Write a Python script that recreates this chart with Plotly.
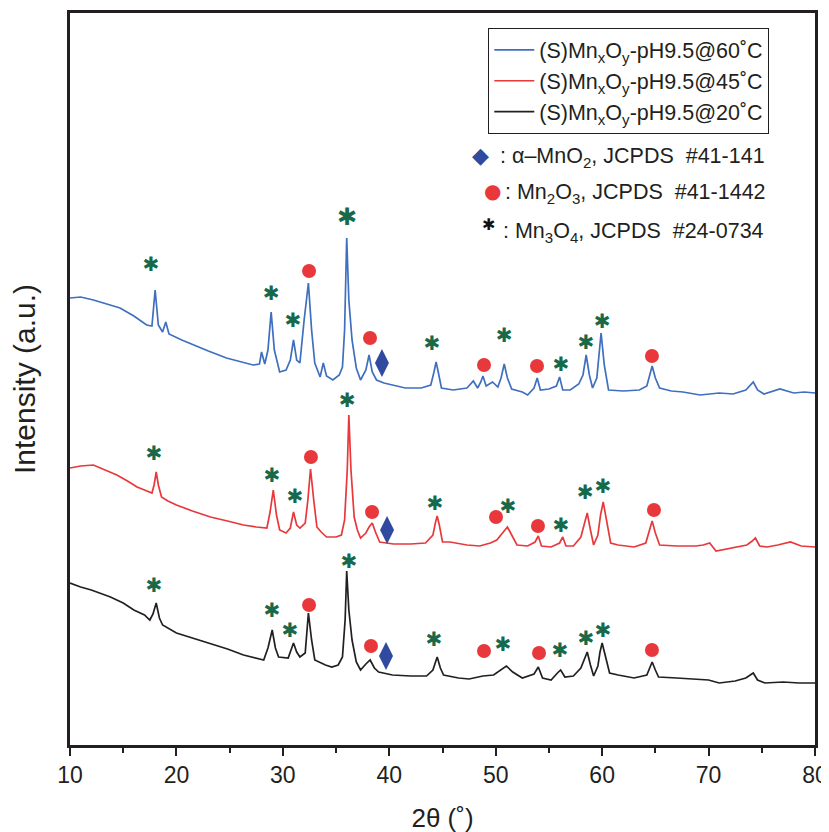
import plotly.graph_objects as go

# ---------------- data ----------------
two_theta_60 = [10.0, 11.0, 12.2, 13.5, 14.7, 16.0, 17.2, 17.7, 18.0, 18.3, 18.7, 19.0, 19.3, 20.5, 21.6, 23.0,
                24.7, 26.0, 27.2, 27.8, 28.0, 28.3, 28.6, 28.9, 29.2, 29.7, 30.3, 30.7, 31.0, 31.3, 31.6, 32.0,
                32.1, 32.4, 32.7, 33.0, 33.5, 33.8, 34.1, 34.7, 35.3, 35.6, 35.8, 36.0, 36.2, 36.5, 36.9, 37.3,
                37.8, 38.1, 38.4, 38.8, 39.5, 40.3, 41.5, 43.0, 43.9, 44.2, 44.4, 44.6, 44.9, 46.0, 47.3, 47.9,
                48.3, 48.6, 48.8, 49.1, 49.7, 50.2, 50.5, 50.8, 51.1, 51.5, 52.5, 53.0, 53.6, 53.9, 54.2, 55.0,
                55.7, 56.0, 56.3, 57.0, 57.8, 58.2, 58.5, 58.8, 59.1, 59.5, 59.9, 60.2, 60.6, 62.0, 63.5, 64.2,
                64.5, 64.7, 65.0, 65.4, 66.5, 67.6, 69.2, 71.0, 72.3, 73.5, 74.2, 74.6, 75.2, 76.7, 78.0, 79.0, 80.0]
intensity_60 = [447, 448, 445, 441, 437, 429, 420, 419, 455, 420, 413, 423, 411, 405, 400, 394,
                387, 383, 380, 381, 393, 381, 395, 433, 395, 373, 375, 385, 405, 385, 382, 425,
                435, 462, 415, 382, 368, 382, 369, 365, 370, 378, 415, 507, 445, 405, 377, 365,
                375, 390, 373, 365, 362, 360, 357, 357, 360, 373, 383, 373, 357, 355, 357, 364,
                357, 363, 369, 359, 363, 358, 367, 381, 367, 356, 353, 350, 357, 367, 355, 356,
                359, 368, 355, 355, 361, 370, 390, 370, 357, 367, 412, 380, 355, 354, 355, 359,
                371, 379, 367, 357, 354, 353, 350, 352, 351, 355, 363, 355, 351, 356, 352, 353, 352]

two_theta_45 = [10.0, 11.0, 12.2, 13.3, 14.4, 15.4, 16.3, 17.0, 17.7, 17.9, 18.1, 18.3, 18.6, 19.2, 20.0, 21.5,
                23.2, 24.8, 26.3, 27.5, 28.5, 28.8, 29.1, 29.4, 29.7, 30.3, 30.7, 31.0, 31.3, 31.6, 32.1, 32.35,
                32.6, 32.9, 33.2, 33.6, 34.1, 35.0, 35.5, 35.8, 36.05, 36.2, 36.4, 36.7, 37.0, 37.3, 37.8, 38.1,
                38.4, 38.7, 39.1, 40.4, 42.0, 43.4, 44.1, 44.35, 44.5, 44.7, 45.0, 45.7, 47.3, 48.5, 49.5, 50.1,
                50.7, 51.1, 51.5, 52.0, 53.0, 53.7, 54.0, 54.3, 55.2, 56.0, 56.3, 56.6, 57.3, 58.0, 58.3, 58.6,
                58.9, 59.2, 59.6, 59.85, 60.1, 60.4, 60.8, 61.5, 63.0, 64.1, 64.5, 64.7, 65.0, 65.4, 67.0, 68.8,
                69.5, 70.1, 70.7, 72.0, 73.6, 74.1, 74.4, 74.8, 75.5, 76.5, 77.7, 78.7, 80.0]
intensity_45 = [277, 279, 280, 275, 270, 264, 258, 255, 252, 260, 273, 260, 248, 244, 240, 234,
                228, 224, 220, 218, 217, 233, 255, 230, 215, 212, 217, 233, 220, 217, 222, 245,
                276, 245, 218, 213, 208, 208, 210, 225, 275, 330, 275, 228, 215, 207, 212, 218,
                222, 213, 203, 201, 201, 202, 210, 223, 229, 220, 203, 203, 200, 199, 202, 205,
                213, 218, 210, 200, 199, 203, 209, 199, 198, 202, 208, 199, 199, 208, 220, 232,
                215, 200, 210, 230, 243, 225, 202, 200, 198, 202, 217, 224, 212, 200, 199, 199,
                200, 202, 194, 197, 200, 204, 207, 199, 198, 200, 203, 199, 198]

two_theta_20 = [10.0, 11.0, 12.0, 13.8, 15.0, 16.0, 17.0, 17.5, 17.8, 18.1, 18.4, 18.7, 20.0, 21.5, 23.1, 24.8,
                26.3, 27.5, 28.2, 28.6, 29.0, 29.3, 29.6, 30.5, 30.8, 31.0, 31.3, 31.6, 32.1, 32.25, 32.4, 32.7,
                33.0, 34.0, 34.6, 35.2, 35.6, 35.85, 36.0, 36.2, 36.5, 36.9, 37.3, 37.8, 38.2, 38.6, 39.0, 40.3,
                42.0, 43.5, 44.1, 44.5, 44.8, 45.1, 46.5, 47.5, 48.8, 49.8, 50.5, 51.0, 51.6, 52.5, 53.6, 54.0,
                54.4, 55.2, 55.8, 56.1, 56.5, 57.3, 58.0, 58.3, 58.6, 58.9, 59.2, 59.6, 59.8, 60.0, 60.3, 60.7,
                61.5, 63.0, 64.2, 64.5, 64.7, 65.0, 65.3, 67.0, 69.2, 70.0, 71.0, 72.5, 73.5, 74.2, 74.6, 75.3,
                77.0, 78.5, 80.0]
intensity_20 = [162, 158, 155, 148, 142, 135, 130, 125, 131, 142, 127, 120, 112, 107, 102, 96,
                90, 87, 85, 97, 115, 97, 88, 87, 95, 102, 93, 88, 92, 110, 132, 105,
                85, 80, 78, 80, 88, 125, 174, 135, 105, 83, 75, 81, 85, 77, 73, 70,
                69, 69, 75, 88, 77, 70, 67, 66, 69, 70, 75, 79, 73, 67, 71, 78,
                67, 65, 72, 75, 68, 69, 77, 85, 93, 80, 69, 79, 93, 102, 90, 72,
                70, 67, 70, 79, 83, 75, 68, 67, 65, 65, 62, 64, 67, 72, 65, 62,
                63, 62, 62]

# phase markers: (2theta, intensity) for each pattern
mn3o4_x_60 = [17.61, 28.89, 30.95, 44.01, 50.78, 56.13, 58.48, 59.99]
mn3o4_y_60 = [479, 450, 423, 400, 408, 379, 401, 422]
mn3o4_big_x = [36.03]
mn3o4_big_y = [526]
mn2o3_x_60 = [32.46, 38.19, 48.90, 53.88, 64.68]
mn2o3_y_60 = [474, 407, 380, 379, 389]
mno2_x_60 = [39.31]
mno2_y_60 = [382]

mn3o4_x_45 = [17.89, 28.98, 31.14, 36.03, 44.29, 51.15, 56.13, 58.39, 60.08]
mn3o4_y_45 = [290, 268, 247, 343, 240, 237, 218, 251, 257]
mn2o3_x_45 = [32.64, 38.38, 50.03, 53.97, 64.87]
mn2o3_y_45 = [288, 233, 228, 219, 235]
mno2_x_45 = [39.79]
mno2_y_45 = [215]

mn3o4_x_20 = [17.89, 28.98, 30.67, 36.21, 44.20, 50.68, 56.04, 58.48, 60.08]
mn3o4_y_20 = [158, 133, 113, 182, 104, 99, 93, 105, 113]
mn2o3_x_20 = [32.46, 38.28, 48.90, 54.07, 64.68]
mn2o3_y_20 = [140, 99, 94, 92, 95]
mno2_x_20 = [39.69]
mno2_y_20 = [89]

series_names = ["(S)Mn<sub>x</sub>O<sub>y</sub>-pH9.5@60˚C",
                "(S)Mn<sub>x</sub>O<sub>y</sub>-pH9.5@45˚C",
                "(S)Mn<sub>x</sub>O<sub>y</sub>-pH9.5@20˚C"]
x_ticks = [10, 20, 30, 40, 50, 60, 70, 80]

# ---------------- styles ----------------
BLUE = "#3f6fbf"
RED = "#e8383b"
BLACK = "#231f20"
GREEN = "#17694a"
DOT = "#e8383b"
NAVY = "#2f4a9e"
ARIAL = "Liberation Sans, Arial, sans-serif"

fig = go.Figure()
for xs, ys, name, col in [(two_theta_60, intensity_60, series_names[0], BLUE),
                          (two_theta_45, intensity_45, series_names[1], RED),
                          (two_theta_20, intensity_20, series_names[2], BLACK)]:
    fig.add_trace(go.Scatter(x=xs, y=ys, mode="lines", name=name,
                             line=dict(color=col, width=1.7)))

ast_x = mn3o4_x_60 + mn3o4_x_45 + mn3o4_x_20
ast_y = mn3o4_y_60 + mn3o4_y_45 + mn3o4_y_20
fig.add_trace(go.Scatter(x=ast_x, y=ast_y, mode="text", text=["✱"] * len(ast_x),
                         textfont=dict(color=GREEN, size=20, family="DejaVu Sans"),
                         showlegend=False, hoverinfo="skip"))
fig.add_trace(go.Scatter(x=mn3o4_big_x, y=mn3o4_big_y, mode="text", text=["✱"],
                         textfont=dict(color=GREEN, size=24, family="DejaVu Sans"),
                         showlegend=False, hoverinfo="skip"))
dot_x = mn2o3_x_60 + mn2o3_x_45 + mn2o3_x_20
dot_y = mn2o3_y_60 + mn2o3_y_45 + mn2o3_y_20
fig.add_trace(go.Scatter(x=dot_x, y=dot_y, mode="markers",
                         marker=dict(symbol="circle", size=14, color=DOT),
                         showlegend=False, hoverinfo="skip"))
dia_x = mno2_x_60 + mno2_x_45 + mno2_x_20
dia_y = mno2_y_60 + mno2_y_45 + mno2_y_20
fig.add_trace(go.Scatter(x=dia_x, y=dia_y, mode="markers",
                         marker=dict(symbol="diamond-tall", size=20, color=NAVY),
                         showlegend=False, hoverinfo="skip"))

# phase key (annotations); positions given in on-screen reference pixels
def px(x):
    return (x - 70) / 745.0
def py(y):
    return (745 - y) / 732.0

key = [
    ("◆", NAVY, 22, 481, 155, ":\u00a0α–MnO<sub>2</sub>, JCPDS\u00a0 #41-141", 498, 157),
    ("●", DOT, 20, 492, 191, ":\u00a0Mn<sub>2</sub>O<sub>3</sub>, JCPDS\u00a0 #41-1442", 503, 193),
    ("✱", "#111111", 16, 488, 224, ":\u00a0Mn<sub>3</sub>O<sub>4</sub>, JCPDS\u00a0 #24-0734", 501, 232),
]
for sym, col, sz, sx, sy, txt, tx, ty in key:
    fig.add_annotation(xref="paper", yref="paper", x=px(sx), y=py(sy), text=sym, showarrow=False,
                       font=dict(color=col, size=sz, family="DejaVu Sans"), xanchor="center", yanchor="middle")
    fig.add_annotation(xref="paper", yref="paper", x=px(tx), y=py(ty), text=txt, showarrow=False,
                       font=dict(color="#231f20", size=21.5, family=ARIAL), xanchor="left", yanchor="middle")

# the page body adds an 8 px offset, so margins are reduced by 8 on the left/top
fig.update_layout(
    width=829, height=832,
    margin=dict(l=62, r=22, t=5, b=95, autoexpand=False),
    paper_bgcolor="white", plot_bgcolor="white",
    showlegend=True,
    legend=dict(x=px(488), y=py(28), xanchor="left", yanchor="top",
                bordercolor="#231f20", borderwidth=1.3, bgcolor="white",
                font=dict(size=21.5, family=ARIAL, color="#231f20"),
                itemwidth=40, tracegroupgap=0),
    xaxis=dict(range=[10, 80], tickvals=x_ticks, ticks="outside", ticklen=8, tickwidth=2,
               tickcolor="#231f20", showline=True, linewidth=2.5, linecolor="#231f20", mirror=True,
               showgrid=False, zeroline=False, automargin=False,
               minor=dict(dtick=5, ticks="outside", ticklen=5, tickwidth=1.5, tickcolor="#231f20"),
               tickfont=dict(family=ARIAL, size=23, color="#231f20"),
               title=dict(text="2θ (˚)", font=dict(family=ARIAL, size=26, color="#231f20"), standoff=22)),
    yaxis=dict(range=[0, 732], showticklabels=False, ticks="", showline=True, linewidth=2.5,
               linecolor="#231f20", mirror=True, showgrid=False, zeroline=False, automargin=False,
               title=dict(text="Intensity (a.u.)", font=dict(family=ARIAL, size=30, color="#231f20"),
                          standoff=27)),
)

fig.write_html("out.html")
